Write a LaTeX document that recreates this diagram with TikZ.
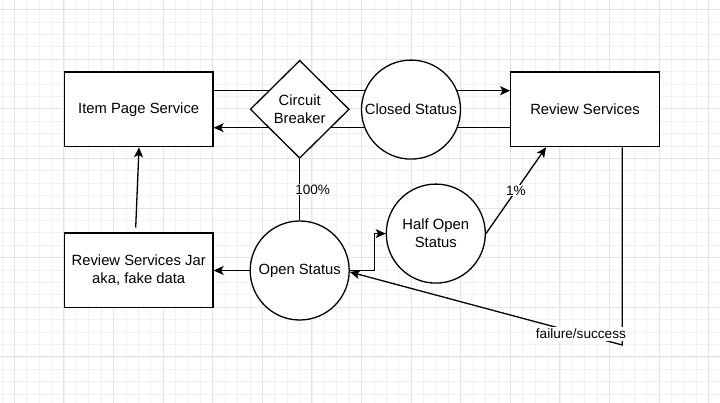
\documentclass[tikz,border=0pt]{standalone}
\usepackage{fontspec}
\setmainfont{Liberation Sans}
\usetikzlibrary{shapes.geometric,arrows.meta,calc}
\pgfdeclarelayer{gridlayer}
\pgfdeclarelayer{edgelayer}
\pgfsetlayers{gridlayer,edgelayer,main}
\newcommand\dgnodefont{\fontsize{14.8}{18}\selectfont}
\newcommand\dgedgefont{\fontsize{13.6}{16}\selectfont}
\definecolor{gridminor}{HTML}{F2F2F2}
\definecolor{gridmajor}{HTML}{E4E4E4}
\begin{document}
\begin{tikzpicture}[x=1pt,y=-1pt,
  box/.style={draw,line width=1.3pt,fill=white,minimum width=148.6pt,minimum height=74.7pt,inner sep=0pt,align=center,font=\dgnodefont},
  statenode/.style={draw,circle,line width=1.3pt,fill=white,minimum size=99pt,inner sep=0pt,align=center,font=\dgnodefont},
  decision/.style={draw,diamond,aspect=1,line width=1.3pt,fill=white,minimum width=99pt,minimum height=98pt,inner sep=0pt,align=center,font=\dgnodefont},
  conn/.style={line width=1.3pt},
  arr/.style={line width=1.3pt,-{Stealth[length=10pt,width=9pt,inset=2.5pt]}},
  elabel/.style={fill=white,inner sep=0.6pt,font=\dgedgefont},
  minorline/.style={gridminor,line width=0.8pt},
  majorline/.style={gridmajor,line width=0.9pt}
]
\useasboundingbox (0,0) rectangle (720,403);
\begin{pgfonlayer}{gridlayer}
\fill[white] (0,0) rectangle (720,403);
\foreach \i in {0,...,58} {
  \pgfmathsetmacro\xx{1.9+12.4*\i}
  \draw[minorline] (\xx,0) -- (\xx,403);
}
\foreach \j in {0,...,32} {
  \pgfmathsetmacro\yy{9.7+12.4*\j}
  \draw[minorline] (0,\yy) -- (720,\yy);
}
\foreach \k in {0,...,14} {
  \pgfmathsetmacro\xx{14.3+49.6*\k}
  \draw[majorline] (\xx,0) -- (\xx,403);
}
\foreach \k in {0,...,8} {
  \pgfmathsetmacro\yy{9.7+49.6*\k}
  \draw[majorline] (0,\yy) -- (720,\yy);
}
\end{pgfonlayer}

\node[box] (item) at (138.7,109.3) {Item Page Service};
\node[box] (rev) at (585,109.3) {Review Services};
\node[box] (jar) at (138.7,270.5) {Review Services Jar\\aka, fake data};
\node[decision] (cb) at (299.7,109.3) {Circuit\\Breaker};
\node[statenode] (closed) at (411,109.6) {Closed Status};
\node[statenode] (open) at (299.7,270.5) {Open Status};
\node[statenode] (half) at (435.8,233.6) {Half Open\\Status};

\coordinate (bend) at (374.3,270.5);
\coordinate (fsturn) at (622.3,345);

\begin{pgfonlayer}{edgelayer}
\draw[arr] ([yshift=18.6pt]item.east) -- ([yshift=18.6pt]rev.west);
\draw[arr] ([yshift=-18.4pt]rev.west) -- ([yshift=-18.4pt]item.east);
\draw[conn] (cb.south) -- node[elabel,xshift=13pt]{100\%} (open.north);
\draw[arr] (open.west) -- (jar.east);
\draw[arr] ([xshift=-3pt,yshift=5pt]jar.north) -- ([xshift=0.3pt]item.south);
\draw[arr] (open.east) -- (bend) |- (half.west);
\draw[arr] (half.east) -- node[elabel]{1\%} ([xshift=36pt]rev.south west);
\draw[arr] ([xshift=37.3pt]rev.south) -- (fsturn) -- node[elabel,pos=0.152,inner xsep=1pt,inner ysep=2.2pt]{failure/success} ([yshift=-1.5pt]open.east);
\end{pgfonlayer}
\end{tikzpicture}
\end{document}
